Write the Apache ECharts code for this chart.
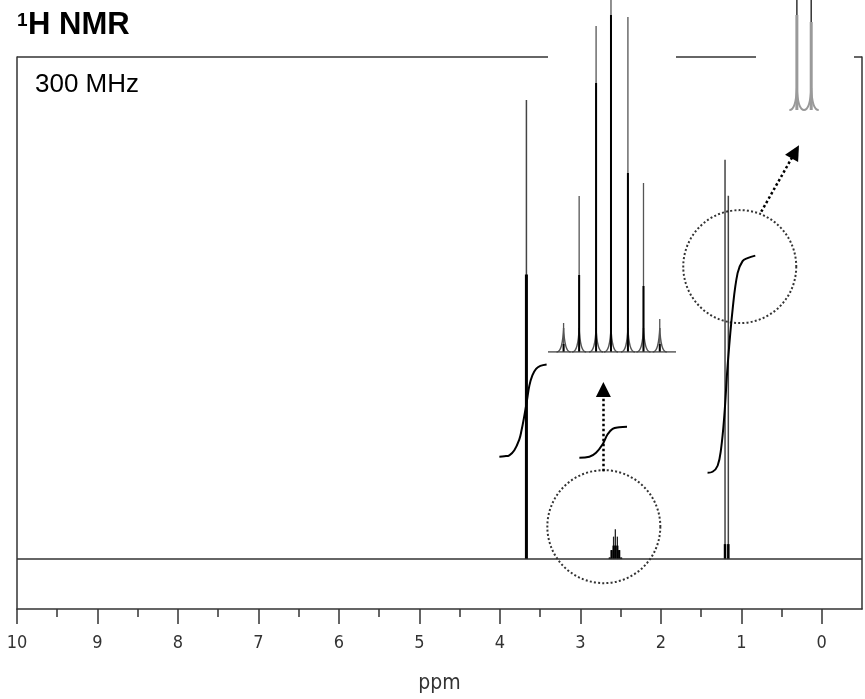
<!DOCTYPE html>
<html>
<head>
<meta charset="utf-8">
<script src="https://cdn.jsdelivr.net/npm/echarts@6.0.0/dist/echarts.min.js"></script>
<style>
  html, body { margin: 0; padding: 0; background: #fff; }
  #chart { width: 865px; height: 699px; }
</style>
</head>
<body>
<div id="chart"></div>
<script>
// Axis ticks (ppm)
const majorTicks = [0, 1, 2, 3, 4, 5, 6, 7, 8, 9, 10];
const minorTicks = [0.5, 1.5, 2.5, 3.5, 4.5, 5.5, 6.5, 7.5, 8.5, 9.5];

// OCH3 singlet
const singletPpm = [3.67];
const singletHeight = [92];
const singletBody = [57];

// CH septet
const septetPpm = [2.635, 2.612, 2.587, 2.565, 2.540, 2.517, 2.493];
const septetHeight = [0.3, 1.8, 4.5, 6.0, 4.5, 1.8, 0.3];
const septetBody = [0.3, 1.8, 2.7, 2.7, 2.7, 1.8, 0.3];

// (CH3)2 doublet
const doubletPpm = [1.202, 1.161];
const doubletHeight = [80, 72.8];
const doubletBody = [3, 3];

// Expanded views
const septetZoomHeight = [29, 156, 326, 440, 335, 169, 33];
const septetZoomBody = [8, 77, 269, 337, 179, 66, 8];
const doubletZoomHeight = [170, 160];
const doubletZoomBody = [95, 88];

// Integral traces [ppm, level]
const integralOMe = [[4.006, 20.5], [3.944, 20.6], [3.882, 20.8], [3.820, 21.8], [3.758, 24.0],
  [3.733, 25.6], [3.696, 28.7], [3.665, 31.6], [3.634, 34.7], [3.596, 36.8], [3.550, 38.1],
  [3.497, 38.7], [3.419, 39.0]];
const integralCH = [[3.012, 20.3], [2.888, 20.5], [2.805, 21.3], [2.723, 23.0], [2.661, 25.0],
  [2.599, 26.1], [2.516, 26.4], [2.420, 26.5]];
const integralMe2 = [[1.419, 17.3], [1.357, 17.5], [1.294, 18.7], [1.252, 22.0], [1.211, 28.7],
  [1.170, 38.7], [1.108, 50.0], [1.046, 57.3], [0.984, 59.7], [0.922, 60.3], [0.826, 60.8]];

// Callout circles [ppm, level] and arrows [[from], [to]]
const calloutCircles = [[2.708, 6.5], [1.019, 58.6]];
const calloutArrows = [
  [[2.714, 17.6], [2.714, 34.0]],
  [[0.752, 69.6], [0.329, 81.6]]
];

const zip = (a, b, c) => a.map((v, i) => [v, b[i], c[i]]);

// Draws each peak as a stick: a thin tip over its full height, a heavier body
// near the baseline, and optional line-shape feet for the expanded traces.
function peakRenderer(o) {
  return function (params, api) {
    const p = api.value(0), h = api.value(1), b = api.value(2);
    const base = api.coord([p, 0]);
    const top = api.coord([p, h]);
    const mid = api.coord([p, b]);
    const kids = [];
    if (o.foot) {
      const fw = o.foot.w, fh = o.foot.h;
      [-1, 1].forEach(function (s) {
        kids.push({
          type: 'bezierCurve',
          shape: {
            x1: base[0] + s * fw, y1: base[1],
            cpx1: base[0] + s * fw * 0.35, cpy1: base[1],
            cpx2: base[0] + s * 0.8, cpy2: base[1] - fh * 0.35,
            x2: base[0], y2: base[1] - fh
          },
          style: { stroke: o.foot.color, lineWidth: o.foot.width, fill: null }
        });
      });
    }
    kids.push({
      type: 'line',
      shape: { x1: base[0], y1: base[1], x2: top[0], y2: top[1] },
      style: { stroke: o.tipColor, lineWidth: o.tipWidth }
    });
    kids.push({
      type: 'line',
      shape: { x1: base[0], y1: base[1], x2: mid[0], y2: mid[1] },
      style: { stroke: o.bodyColor, lineWidth: o.bodyWidth }
    });
    return { type: 'group', children: kids };
  };
}

const frameColor = '#333';
const tickFont = '"DejaVu Sans Condensed", "DejaVu Sans", sans-serif';

const chart = echarts.init(document.getElementById('chart'), null, { renderer: 'canvas' });

chart.setOption({
  animation: false,
  backgroundColor: '#fff',
  grid: [
    { left: 17, right: 3, top: 57, bottom: 89, containLabel: false },
    { left: 548, top: 0, width: 128, height: 352 },
    { left: 789, top: 0, width: 32, height: 110 }
  ],
  xAxis: [
    {
      gridIndex: 0, type: 'value', min: -0.5, max: 10, inverse: true, position: 'bottom',
      axisLine: { show: true, onZero: false, lineStyle: { color: frameColor, width: 1.5 } },
      axisTick: { show: true, customValues: majorTicks, length: 15, lineStyle: { color: frameColor, width: 1.5 } },
      axisLabel: { show: true, customValues: majorTicks, margin: 25, fontFamily: tickFont, fontSize: 18, color: '#333' },
      splitLine: { show: false },
      name: 'ppm', nameLocation: 'middle', nameGap: 64,
      nameTextStyle: { fontFamily: tickFont, fontSize: 21, color: '#333' }
    },
    {
      gridIndex: 0, type: 'value', min: -0.5, max: 10, inverse: true, position: 'bottom',
      axisLine: { show: false, onZero: false },
      axisTick: { show: true, customValues: minorTicks, length: 8, lineStyle: { color: frameColor, width: 1.5 } },
      axisLabel: { show: false },
      splitLine: { show: false }
    },
    { gridIndex: 1, type: 'value', min: 2.469, max: 2.658, inverse: true, show: false },
    { gridIndex: 2, type: 'value', min: 1.133, max: 1.2245, inverse: true, show: false }
  ],
  yAxis: [
    {
      gridIndex: 0, type: 'value', min: -10, max: 100.6, position: 'left',
      axisLine: { show: true, onZero: false, lineStyle: { color: frameColor, width: 1.5 } },
      axisTick: { show: false }, axisLabel: { show: false }, splitLine: { show: false }
    },
    {
      gridIndex: 0, type: 'value', min: -10, max: 100.6, position: 'right',
      axisLine: { show: true, onZero: false, lineStyle: { color: frameColor, width: 1.5 } },
      axisTick: { show: false }, axisLabel: { show: false }, splitLine: { show: false }
    },
    { gridIndex: 1, type: 'value', min: 0, max: 352, show: false },
    { gridIndex: 2, type: 'value', min: 0, max: 110, show: false }
  ],
  graphic: [
    // top edge of the frame, interrupted where the expansions sit
    { type: 'line', shape: { x1: 17, y1: 57, x2: 548, y2: 57 }, style: { stroke: frameColor, lineWidth: 1.5 } },
    { type: 'line', shape: { x1: 676, y1: 57, x2: 756, y2: 57 }, style: { stroke: frameColor, lineWidth: 1.5 } },
    { type: 'line', shape: { x1: 854, y1: 57, x2: 862, y2: 57 }, style: { stroke: frameColor, lineWidth: 1.5 } },
    { type: 'text', left: 17, top: 11, style: { text: '1', font: 'bold 19px "Liberation Sans", Arial, sans-serif', fill: '#000' } },
    { type: 'text', left: 28, top: 10, style: { text: 'H NMR', font: 'bold 31px "Liberation Sans", Arial, sans-serif', fill: '#000' } },
    { type: 'text', left: 35, top: 72, style: { text: '300 MHz', font: '26px "Liberation Sans", Arial, sans-serif', fill: '#000' } }
  ],
  series: [
    {
      name: 'baseline', type: 'line', xAxisIndex: 0, yAxisIndex: 0,
      data: [[10, 0], [-0.5, 0]], symbol: 'none',
      lineStyle: { color: '#333', width: 1.5 }, silent: true
    },
    {
      name: 'OCH3', type: 'custom', xAxisIndex: 0, yAxisIndex: 0,
      data: zip(singletPpm, singletHeight, singletBody),
      renderItem: peakRenderer({ tipColor: '#444', tipWidth: 1.5, bodyColor: '#000', bodyWidth: 3 })
    },
    {
      name: 'CH', type: 'custom', xAxisIndex: 0, yAxisIndex: 0,
      data: zip(septetPpm, septetHeight, septetBody),
      renderItem: peakRenderer({ tipColor: '#222', tipWidth: 1.3, bodyColor: '#000', bodyWidth: 2.2 })
    },
    {
      name: 'CH3', type: 'custom', xAxisIndex: 0, yAxisIndex: 0,
      data: zip(doubletPpm, doubletHeight, doubletBody),
      renderItem: peakRenderer({ tipColor: '#444', tipWidth: 1.5, bodyColor: '#000', bodyWidth: 2.5 })
    },
    {
      name: 'integral OCH3', type: 'line', xAxisIndex: 0, yAxisIndex: 0, data: integralOMe,
      symbol: 'none', smooth: 0.4, lineStyle: { color: '#000', width: 2 }
    },
    {
      name: 'integral CH', type: 'line', xAxisIndex: 0, yAxisIndex: 0, data: integralCH,
      symbol: 'none', smooth: 0.4, lineStyle: { color: '#000', width: 2 }
    },
    {
      name: 'integral CH3', type: 'line', xAxisIndex: 0, yAxisIndex: 0, data: integralMe2,
      symbol: 'none', smooth: 0.4, lineStyle: { color: '#000', width: 2 }
    },
    {
      name: 'callout circles', type: 'scatter', xAxisIndex: 0, yAxisIndex: 0,
      data: calloutCircles, symbol: 'circle', symbolSize: 113, silent: true,
      itemStyle: { color: 'rgba(0,0,0,0)', borderColor: '#000', borderWidth: 2, borderType: [2, 2.2] }
    },
    {
      name: 'callout arrows', type: 'lines', coordinateSystem: 'cartesian2d',
      xAxisIndex: 0, yAxisIndex: 0, silent: true,
      data: calloutArrows.map(a => ({ coords: a })),
      symbol: ['none', 'triangle'], symbolSize: 15,
      lineStyle: { color: '#000', width: 2.5, type: [2.5, 2.5], opacity: 1, curveness: 0 }
    },
    // septet expansion
    {
      name: 'CH zoom baseline', type: 'line', xAxisIndex: 2, yAxisIndex: 2,
      data: [[2.658, 0], [2.469, 0]], symbol: 'none', lineStyle: { color: '#444', width: 1.5 }
    },
    {
      name: 'CH zoom', type: 'custom', xAxisIndex: 2, yAxisIndex: 2,
      data: zip(septetPpm, septetZoomHeight, septetZoomBody),
      renderItem: peakRenderer({
        tipColor: '#555', tipWidth: 1.3, bodyColor: '#000', bodyWidth: 2,
        foot: { w: 7, h: 24, color: '#555', width: 1.3 }
      })
    },
    // doublet expansion
    {
      name: 'CH3 zoom', type: 'custom', xAxisIndex: 3, yAxisIndex: 3,
      data: zip(doubletPpm, doubletZoomHeight, doubletZoomBody),
      renderItem: peakRenderer({
        tipColor: '#333', tipWidth: 1.5, bodyColor: '#9a9a9a', bodyWidth: 3,
        foot: { w: 7.5, h: 22, color: '#999', width: 1.8 }
      })
    }
  ]
});
</script>
</body>
</html>
